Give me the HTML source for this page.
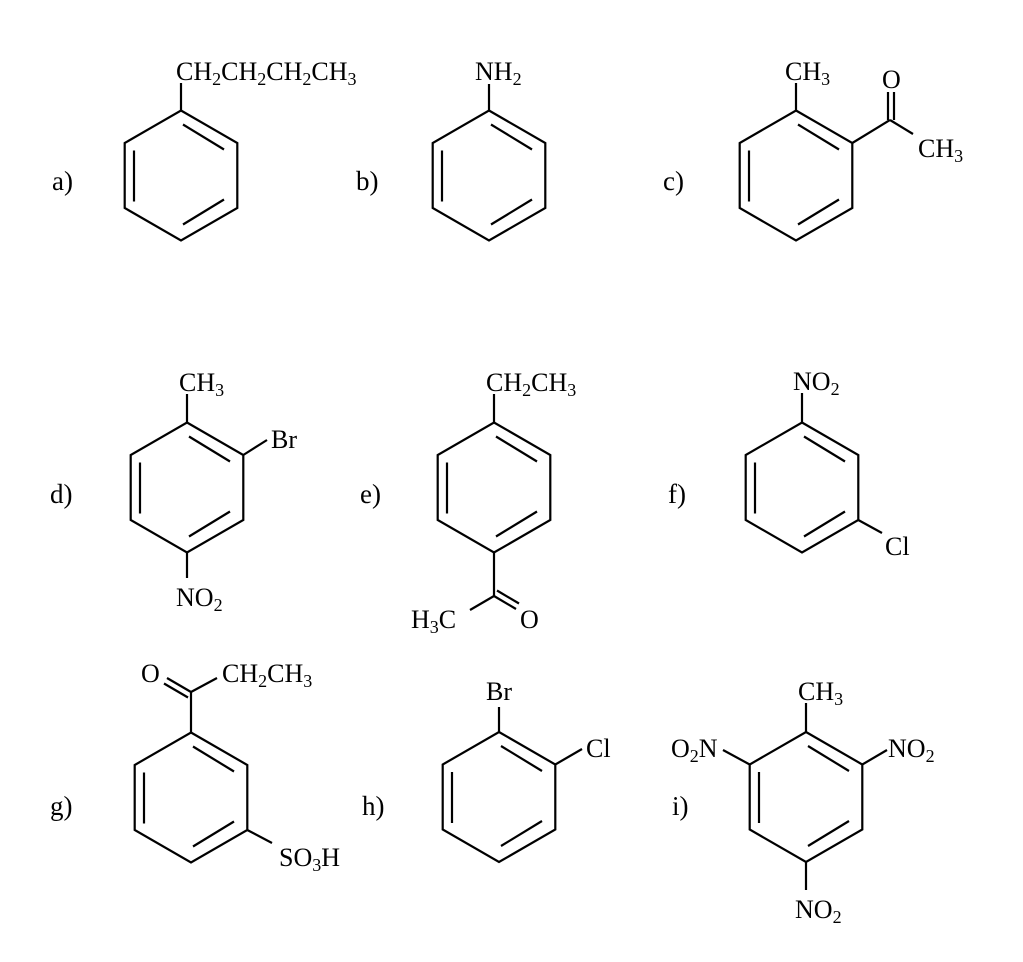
<!DOCTYPE html>
<html><head><meta charset="utf-8"><style>
html,body{margin:0;padding:0;background:#fff;}
svg{display:block;}
text{font-family:"Liberation Serif",serif;font-size:26px;fill:#000;}
.lb{font-size:27px;}
.s{font-size:18px;}
</style></head><body>
<svg width="1023" height="962" viewBox="0 0 1023 962" xmlns="http://www.w3.org/2000/svg">
<defs>
<g id="ring" fill="none" stroke="#000" stroke-width="2.2" stroke-linejoin="miter">
<polygon points="0,-65 56.3,-32.5 56.3,32.5 0,65 -56.3,32.5 -56.3,-32.5"/>
<line x1="2" y1="-51" x2="43" y2="-26"/>
<line x1="2" y1="49" x2="43" y2="24"/>
<line x1="-47" y1="-25" x2="-47" y2="26"/>
</g>
</defs>
<g stroke="#000" stroke-width="2.2" fill="none">
<line x1="181" y1="110.5" x2="181" y2="83"/>
<line x1="489" y1="110.5" x2="489" y2="84"/>
<line x1="796" y1="110.5" x2="796" y2="83"/>
<line x1="852.3" y1="143" x2="890" y2="120"/>
<line x1="890" y1="120" x2="913" y2="134"/>
<line x1="888" y1="120" x2="888" y2="92"/>
<line x1="894" y1="120" x2="894" y2="92"/>
<line x1="187" y1="422.5" x2="187" y2="394"/>
<line x1="243.3" y1="455" x2="267" y2="440"/>
<line x1="187" y1="552.5" x2="187" y2="578"/>
<line x1="494" y1="422.5" x2="494" y2="394"/>
<line x1="494" y1="552.5" x2="494" y2="596"/>
<line x1="494" y1="596" x2="470" y2="610"/>
<line x1="494" y1="596" x2="516" y2="609"/>
<line x1="497" y1="590.5" x2="519" y2="603.5"/>
<line x1="802" y1="422.5" x2="802" y2="393"/>
<line x1="858.3" y1="520" x2="882" y2="533"/>
<line x1="191" y1="732.5" x2="191" y2="692"/>
<line x1="191" y1="692" x2="167" y2="678"/>
<line x1="188" y1="697.5" x2="164" y2="683.5"/>
<line x1="191" y1="692" x2="217" y2="678"/>
<line x1="247.3" y1="830" x2="272" y2="843"/>
<line x1="499" y1="732" x2="499" y2="707"/>
<line x1="555.3" y1="764.5" x2="582" y2="749"/>
<line x1="806" y1="732" x2="806" y2="703"/>
<line x1="749.7" y1="764.5" x2="723" y2="750"/>
<line x1="862.3" y1="764.5" x2="887" y2="750"/>
<line x1="806" y1="862" x2="806" y2="890"/>
</g>
<use href="#ring" x="181" y="175.5"/>
<use href="#ring" x="489" y="175.5"/>
<use href="#ring" x="796" y="175.5"/>
<use href="#ring" x="187" y="487.5"/>
<use href="#ring" x="494" y="487.5"/>
<use href="#ring" x="802" y="487.5"/>
<use href="#ring" x="191" y="797.5"/>
<use href="#ring" x="499" y="797"/>
<use href="#ring" x="806" y="797"/>

<text class="lb" x="52" y="190">a)</text>
<text class="lb" x="356" y="190">b)</text>
<text class="lb" x="663" y="190">c)</text>
<text class="lb" x="50" y="503">d)</text>
<text class="lb" x="360" y="503">e)</text>
<text class="lb" x="668" y="503">f)</text>
<text class="lb" x="50" y="815">g)</text>
<text class="lb" x="362" y="815">h)</text>
<text class="lb" x="672" y="815">i)</text>

<text x="176" y="80">CH<tspan class="s" dy="5">2</tspan><tspan dy="-5">CH</tspan><tspan class="s" dy="5">2</tspan><tspan dy="-5">CH</tspan><tspan class="s" dy="5">2</tspan><tspan dy="-5">CH</tspan><tspan class="s" dy="5">3</tspan></text>
<text x="475" y="80">NH<tspan class="s" dy="5">2</tspan></text>
<text x="785" y="80">CH<tspan class="s" dy="5">3</tspan></text>
<text x="882" y="88">O</text>
<text x="918" y="157">CH<tspan class="s" dy="5">3</tspan></text>

<text x="179" y="391">CH<tspan class="s" dy="5">3</tspan></text>
<text x="271" y="448">Br</text>
<text x="176" y="606">NO<tspan class="s" dy="5">2</tspan></text>

<text x="486" y="391">CH<tspan class="s" dy="5">2</tspan><tspan dy="-5">CH</tspan><tspan class="s" dy="5">3</tspan></text>
<text x="411" y="628">H<tspan class="s" dy="5">3</tspan><tspan dy="-5">C</tspan></text>
<text x="520" y="628">O</text>

<text x="793" y="390">NO<tspan class="s" dy="5">2</tspan></text>
<text x="885" y="555">Cl</text>

<text x="141" y="682">O</text>
<text x="222" y="682">CH<tspan class="s" dy="5">2</tspan><tspan dy="-5">CH</tspan><tspan class="s" dy="5">3</tspan></text>
<text x="279" y="866">SO<tspan class="s" dy="5">3</tspan><tspan dy="-5">H</tspan></text>

<text x="486" y="700">Br</text>
<text x="586" y="757">Cl</text>

<text x="798" y="700">CH<tspan class="s" dy="5">3</tspan></text>
<text x="671" y="757">O<tspan class="s" dy="5">2</tspan><tspan dy="-5">N</tspan></text>
<text x="888" y="757">NO<tspan class="s" dy="5">2</tspan></text>
<text x="795" y="918">NO<tspan class="s" dy="5">2</tspan></text>
</svg>
</body></html>
